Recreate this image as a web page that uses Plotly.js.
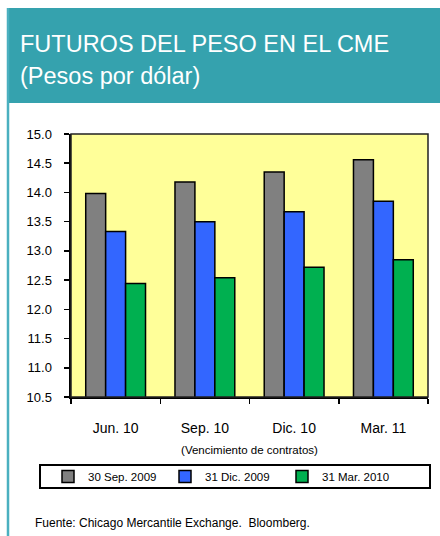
<!DOCTYPE html>
<html>
<head>
<meta charset="utf-8">
<script src="https://cdn.plot.ly/plotly-3.0.1.min.js"></script>
<style>html,body{margin:0;padding:0;background:#fff;}#chart{width:440px;height:536px;}</style>
</head>
<body>
<div id="chart"></div>
<script>
const categories = ["Jun. 10", "Sep. 10", "Dic. 10", "Mar. 11"];
const seriesNames = ["30 Sep. 2009", "31 Dic. 2009", "31 Mar. 2010"];
const sep2009 = [13.98, 14.18, 14.35, 14.56];
const dic2009 = [13.33, 13.50, 13.67, 13.85];
const mar2010 = [12.44, 12.54, 12.72, 12.85];
const yTicks = [10.5, 11.0, 11.5, 12.0, 12.5, 13.0, 13.5, 14.0, 14.5, 15.0];
const colors = ["#808080", "#3366FF", "#00B050"];

const FONT = "Arial, 'Liberation Sans', sans-serif";
const W = 440, H = 536, L = 71, R = 12, T = 134, B = 139;
const pw = W - L - R, ph = H - T - B;
const px = x => (x - L) / pw;
const py = y => (H - B - y) / ph;

const values = [sep2009, dic2009, mar2010];
const traces = values.map((v, i) => ({
  type: "bar",
  name: seriesNames[i],
  x: categories,
  y: v,
  marker: {color: colors[i], line: {color: "#000", width: 1.5}},
  hoverinfo: "x+y+name"
}));

const layout = {
  width: W, height: H,
  margin: {l: L, r: R, t: T, b: B, pad: 0},
  paper_bgcolor: "#fff",
  plot_bgcolor: "#FFFF99",
  font: {family: FONT, color: "#000"},
  barmode: "group",
  bargap: 0.33,
  bargroupgap: 0,
  showlegend: true,
  legend: {
    orientation: "h",
    x: px(48), y: py(476.5), xanchor: "left", yanchor: "middle",
    bgcolor: "rgba(0,0,0,0)", borderwidth: 0,
    font: {size: 11.5, family: FONT},
    entrywidth: 72, entrywidthmode: "pixels",
    itemwidth: 30,
    traceorder: "normal"
  },
  xaxis: {
    type: "category",
    showgrid: false, zeroline: false,
    showline: true, linecolor: "#000", linewidth: 2,
    ticks: "outside", ticklen: 5, tickwidth: 1.5, tickcolor: "#000",
    tickson: "boundaries",
    tickfont: {size: 14, family: FONT},
    ticklabelstandoff: 17,
    title: {text: "(Vencimiento de contratos)", font: {size: 11.5, family: FONT}, standoff: 11}
  },
  yaxis: {
    range: [10.5, 15.0],
    tickvals: yTicks,
    ticktext: yTicks.map(v => v.toFixed(1)),
    showgrid: false, zeroline: false,
    showline: true, linecolor: "#000", linewidth: 2.5,
    ticks: "outside", ticklen: 5, tickwidth: 1.5, tickcolor: "#000",
    tickfont: {size: 13, family: FONT},
    ticklabelstandoff: 9
  },
  shapes: [
    {type: "rect", xref: "paper", yref: "paper", x0: px(7), x1: px(445), y0: py(103), y1: py(8),
     fillcolor: "#35A2AE", line: {width: 0}, layer: "below"},
    {type: "line", xref: "paper", yref: "paper", x0: px(8), x1: px(8), y0: py(8), y1: py(540),
     line: {color: "#4AB0C0", width: 2.5}},
    {type: "rect", xref: "paper", yref: "paper", x0: 0, x1: 1, y0: 0, y1: 1,
     line: {color: "#222", width: 1.5}},
    {type: "rect", xref: "paper", yref: "paper", x0: px(40), x1: px(430), y0: py(488), y1: py(465),
     line: {color: "#000", width: 2}, fillcolor: "rgba(0,0,0,0)"}
  ],
  annotations: [
    {xref: "paper", yref: "paper", x: px(18), y: py(44), xanchor: "left", yanchor: "middle",
     showarrow: false, text: "FUTUROS DEL PESO EN EL CME", font: {size: 23.5, color: "#fff", family: FONT}},
    {xref: "paper", yref: "paper", x: px(18), y: py(76), xanchor: "left", yanchor: "middle",
     showarrow: false, text: "(Pesos por dólar)", font: {size: 23.5, color: "#fff", family: FONT}},
    {xref: "paper", yref: "paper", x: px(33), y: py(523), xanchor: "left", yanchor: "middle",
     showarrow: false, text: "Fuente: Chicago Mercantile Exchange.  Bloomberg.", font: {size: 12, color: "#000", family: FONT}}
  ]
};

Plotly.newPlot("chart", traces, layout, {displayModeBar: false, staticPlot: true});
</script>
</body>
</html>
